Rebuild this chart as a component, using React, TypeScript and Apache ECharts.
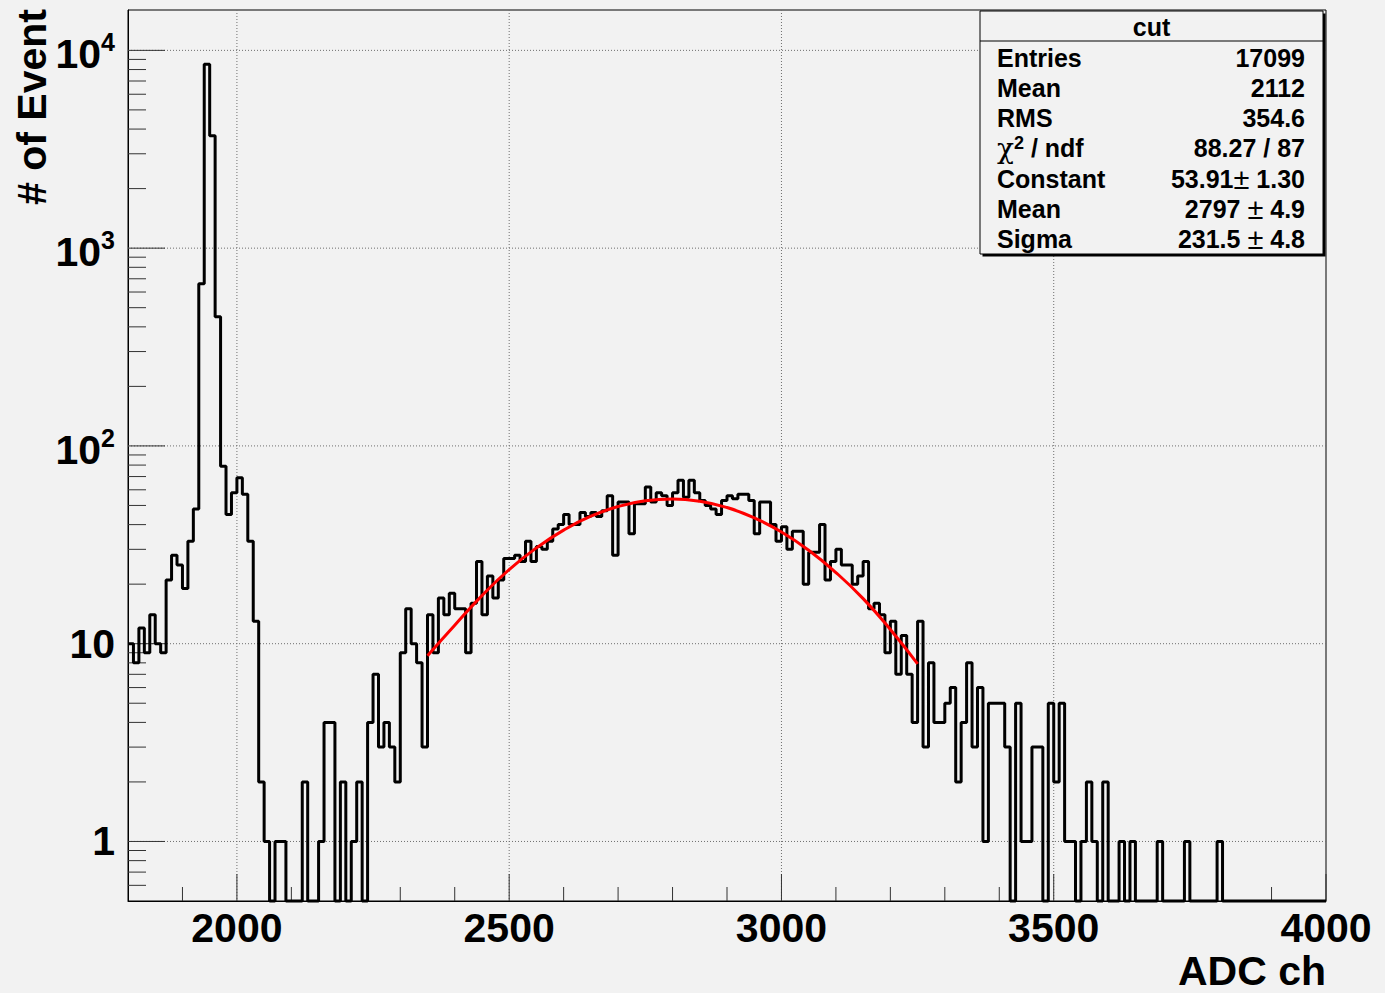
import React, { useEffect, useRef } from 'react';
import * as echarts from 'echarts';

// ---------------- data ----------------
const X_MIN = 1800;
const X_MAX = 4000;
const BIN_WIDTH = 10;
const Y_MIN = 0.5;
const Y_MAX = 16000;

// histogram "cut": 220 bins of 10 ADC ch from 1800 to 4000
const counts: number[] = [
  10, 8, 12, 9, 14, 10, 9, 21, 28, 25,
  19, 33, 48, 660, 8500, 3700, 450, 79, 45, 58,
  69, 57, 33, 13, 2, 1, 0, 1, 1, 0,
  0, 0, 2, 0, 0, 1, 4, 4, 0, 2,
  0, 1, 2, 0, 4, 7, 3, 4, 3, 2,
  9, 15, 10, 8, 3, 14, 9, 17, 14, 18,
  15, 15, 9, 16, 26, 14, 22, 17, 21, 27,
  27, 28, 26, 33, 26, 31, 30, 33, 38, 40,
  45, 40, 40, 46, 44, 46, 44, 47, 56, 28,
  52, 52, 36, 51, 51, 62, 52, 58, 56, 50,
  58, 67, 55, 67, 58, 53, 50, 48, 45, 53,
  56, 54, 57, 57, 53, 36, 52, 52, 40, 33,
  39, 30, 37, 37, 20, 29, 29, 40, 21, 26,
  30, 25, 25, 20, 22, 26, 15, 16, 14, 9,
  13, 7, 11, 7, 4, 13, 3, 8, 4, 4,
  5, 6, 2, 4, 8, 3, 6, 1, 5, 5,
  5, 3, 0, 5, 1, 1, 3, 3, 0, 5,
  2, 5, 1, 1, 0, 1, 2, 1, 0, 2,
  0, 0, 1, 0, 1, 0, 0, 0, 0, 1,
  0, 0, 0, 0, 1, 0, 0, 0, 0, 0,
  1, 0, 0, 0, 0, 0, 0, 0, 0, 0,
  0, 0, 0, 0, 0, 0, 0, 0, 0, 0,
];

// red fit curve
const fitX: number[] = [2350, 2400, 2450, 2500, 2550, 2600, 2650, 2700, 2750, 2800, 2850, 2900, 2950, 3000, 3050, 3100, 3150, 3200, 3250];
const fitY: number[] = [8.7, 12.4, 17.5, 23.7, 30.5, 37.5, 44.1, 49.4, 52.8, 53.9, 52.5, 48.8, 43.3, 36.7, 29.7, 22.9, 16.9, 11.8, 7.9];

const xMajorTicks: number[] = [2000, 2500, 3000, 3500, 4000];
const xTickLabels: string[] = ['2000', '2500', '3000', '3500', '4000'];
const yMajorTicks: number[] = [1, 10, 100, 1000, 10000];
const yTickLabels: string[] = ['1', '10', '10^2', '10^3', '10^4'];

const xTitle = 'ADC ch';
const yTitle = '# of Event';

const statTitle = 'cut';
const statNames: string[] = ['Entries', 'Mean', 'RMS', 'χ^2 / ndf', 'Constant', 'Mean', 'Sigma'];
const statValues: string[] = ['17099', '2112', '354.6', '88.27 / 87', '53.91± 1.30', '2797 ± 4.9', '231.5 ± 4.8'];

// ---------------- styling ----------------
const FONT = '"Liberation Sans", Arial, Helvetica, sans-serif';
const BG = '#f2f2f2';
const GRID = { left: 128, right: 59, top: 10, bottom: 92 };

function buildOption() {
  const histData: number[][] = counts.map((c, i) => [X_MIN + i * BIN_WIDTH, c > 0 ? c : Y_MIN]);
  const last = counts[counts.length - 1];
  histData.push([X_MAX, last > 0 ? last : Y_MIN]);

  const fitData = fitX.map((x, i) => [x, fitY[i]]);

  const xMinor: number[] = [];
  for (let v = X_MIN + 100; v < X_MAX; v += 100) if (!xMajorTicks.includes(v)) xMinor.push(v);
  const yMinor: number[] = [];
  for (let e = -1; e <= 4; e++) {
    for (let k = 2; k <= 9; k++) {
      const v = k * Math.pow(10, e);
      if (v > Y_MIN && v < Y_MAX) yMinor.push(v);
    }
  }

  const renderFrameDecor = (_params: any, api: any) => {
    const children: any[] = [];
    const [left, bottom] = api.coord([X_MIN, Y_MIN]);
    const right = api.coord([X_MAX, Y_MIN])[0];
    const top = api.coord([X_MIN, Y_MAX])[1];
    const gridStyle = { stroke: '#6e6e6e', lineWidth: 1, lineDash: [1, 2] };
    const tickStyle = { stroke: '#333', lineWidth: 1 };
    xMajorTicks.forEach((x) => {
      const px = api.coord([x, Y_MIN])[0];
      if (x < X_MAX) children.push({ type: 'line', shape: { x1: px, y1: top, x2: px, y2: bottom }, style: gridStyle });
      children.push({ type: 'line', shape: { x1: px, y1: bottom, x2: px, y2: bottom - 27 }, style: tickStyle });
    });
    xMinor.forEach((x) => {
      const px = api.coord([x, Y_MIN])[0];
      children.push({ type: 'line', shape: { x1: px, y1: bottom, x2: px, y2: bottom - 14 }, style: tickStyle });
    });
    yMajorTicks.forEach((y) => {
      const py = api.coord([X_MIN, y])[1];
      children.push({ type: 'line', shape: { x1: left, y1: py, x2: right, y2: py }, style: gridStyle });
      children.push({ type: 'line', shape: { x1: left, y1: py, x2: left + 37, y2: py }, style: tickStyle });
    });
    yMinor.forEach((y) => {
      const py = api.coord([X_MIN, y])[1];
      children.push({ type: 'line', shape: { x1: left, y1: py, x2: left + 18, y2: py }, style: tickStyle });
    });
    return { type: 'group', children };
  };

  const labelRich = {
    q: { fontSize: 41, fontWeight: 'bold', fontFamily: FONT, color: '#000', lineHeight: 41 },
    p: { fontSize: 41, fontWeight: 'bold', fontFamily: FONT, color: '#000', lineHeight: 41, padding: [8, 0, 0, 0] },
    s: { fontSize: 25, fontWeight: 'bold', fontFamily: FONT, color: '#000', lineHeight: 25, verticalAlign: 'top' },
  };

  const statFontSize = 25;
  const richStat = {
    b: { fontSize: statFontSize, fontWeight: 'bold', fontFamily: FONT, color: '#000', lineHeight: 28 },
    pm: { fontSize: 29, fontWeight: 'normal', fontFamily: FONT, color: '#000', lineHeight: 28 },
    g: { fontSize: 28, fontWeight: 'normal', fontFamily: '"DejaVu Serif", "Liberation Serif", serif', color: '#000', lineHeight: 28 },
    sup: { fontSize: 18, fontWeight: 'bold', fontFamily: FONT, color: '#000', verticalAlign: 'top', lineHeight: 18 },
  };

  const toRichName = (s: string) => {
    if (s.includes('^')) {
      const [a, rest] = s.split('^');
      const sup = rest.charAt(0);
      return `{g|${a}}{sup|${sup}}{b|${rest.slice(1)}}`;
    }
    return `{b|${s}}`;
  };
  const toRichValue = (s: string) => {
    if (s.includes('±')) {
      const [a, b] = s.split('±');
      return `{b|${a}}{pm|±}{b|${b}}`;
    }
    return `{b|${s}}`;
  };

  const boxL = 980, boxT = 11, boxW = 343, boxH = 243;
  const rowY0 = 57.5, rowStep = 30.3;

  const graphic: any[] = [
    { type: 'rect', z: 100, shape: { x: boxL + 2.5, y: boxT + 2.5, width: boxW, height: boxH }, style: { fill: '#000' } },
    { type: 'rect', z: 101, shape: { x: boxL, y: boxT, width: boxW, height: boxH }, style: { fill: BG, stroke: '#000', lineWidth: 1 } },
    { type: 'line', z: 102, shape: { x1: boxL, y1: 41, x2: boxL + boxW, y2: 41 }, style: { stroke: '#000', lineWidth: 1 } },
    {
      type: 'text', z: 102, x: boxL + boxW / 2, y: 26.5,
      style: { text: statTitle, font: `bold ${statFontSize}px ${FONT}`, fill: '#000', textAlign: 'center', textVerticalAlign: 'middle', align: 'center', verticalAlign: 'middle' },
    },
  ];
  statNames.forEach((n, i) => {
    const y = rowY0 + i * rowStep;
    graphic.push({
      type: 'text', z: 102, x: 997, y,
      style: { text: toRichName(n), rich: richStat, font: `bold ${statFontSize}px ${FONT}`, fill: '#000', textAlign: 'left', textVerticalAlign: 'middle', align: 'left', verticalAlign: 'middle' },
    });
    graphic.push({
      type: 'text', z: 102, x: 1305, y,
      style: { text: toRichValue(statValues[i]), rich: richStat, font: `bold ${statFontSize}px ${FONT}`, fill: '#000', textAlign: 'right', textVerticalAlign: 'middle', align: 'right', verticalAlign: 'middle' },
    });
  });
  // axis titles
  graphic.push({
    type: 'text', z: 50, x: 1326, y: 971,
    style: { text: xTitle, font: `bold 41px ${FONT}`, lineHeight: 34, fill: '#000', textAlign: 'right', textVerticalAlign: 'middle', align: 'right', verticalAlign: 'middle' },
  });
  graphic.push({
    type: 'text', z: 50, x: 31.5, y: 9, rotation: Math.PI / 2,
    style: { text: yTitle, font: `bold 41px ${FONT}`, fill: '#000', textAlign: 'right', textVerticalAlign: 'middle', align: 'right', verticalAlign: 'middle' },
  });

  return {
    animation: false,
    backgroundColor: BG,
    grid: { ...GRID, show: true, borderColor: '#000', borderWidth: 1, backgroundColor: 'transparent', containLabel: false, outerBoundsMode: 'none' },
    xAxis: {
      type: 'value',
      min: X_MIN,
      max: X_MAX,
      interval: 100,
      axisLine: { show: true, onZero: false, lineStyle: { color: '#000', width: 1 } },
      axisTick: { show: false },
      splitLine: { show: false },
      axisLabel: {
        margin: 6,
        fontSize: 41,
        fontWeight: 'bold',
        fontFamily: FONT,
        color: '#000',
        formatter: (v: number) => {
          const i = xMajorTicks.indexOf(Math.round(v));
          return i >= 0 ? xTickLabels[i] : '';
        },
      },
    },
    yAxis: {
      type: 'log',
      logBase: 10,
      min: Y_MIN,
      max: Y_MAX,
      axisLine: { show: true, lineStyle: { color: '#000', width: 1 } },
      axisTick: { show: false },
      splitLine: { show: false },
      axisLabel: {
        margin: 13,
        rich: labelRich,
        formatter: (v: number) => {
          const i = yMajorTicks.findIndex((t) => Math.abs(v - t) / t < 1e-6);
          if (i < 0) return '';
          const lab = yTickLabels[i];
          const parts = lab.split('^');
          return parts.length === 2 ? `{p|${parts[0]}}{s|${parts[1]}}` : `{q|${lab}}`;
        },
      },
    },
    series: [
      {
        type: 'custom',
        z: 1,
        silent: true,
        clip: false,
        data: [[X_MIN, 1]],
        renderItem: renderFrameDecor,
      },
      {
        name: statTitle,
        type: 'line',
        step: 'end',
        data: histData,
        symbol: 'none',
        showSymbol: false,
        clip: false,
        z: 3,
        lineStyle: { color: '#000', width: 3 },
      },
      {
        name: 'fit',
        type: 'line',
        data: fitData,
        smooth: true,
        symbol: 'none',
        showSymbol: false,
        z: 4,
        lineStyle: { color: '#ff0000', width: 3 },
      },
    ],
    graphic,
  };
}

export default function App() {
  const ref = useRef<HTMLDivElement>(null);
  useEffect(() => {
    document.body.style.margin = '0';
    document.body.style.background = BG;
    const chart = echarts.init(ref.current as HTMLDivElement, null, { renderer: 'svg' });
    chart.setOption(buildOption() as any);
    return () => chart.dispose();
  }, []);
  return <div ref={ref} style={{ width: 1385, height: 993 }} />;
}
